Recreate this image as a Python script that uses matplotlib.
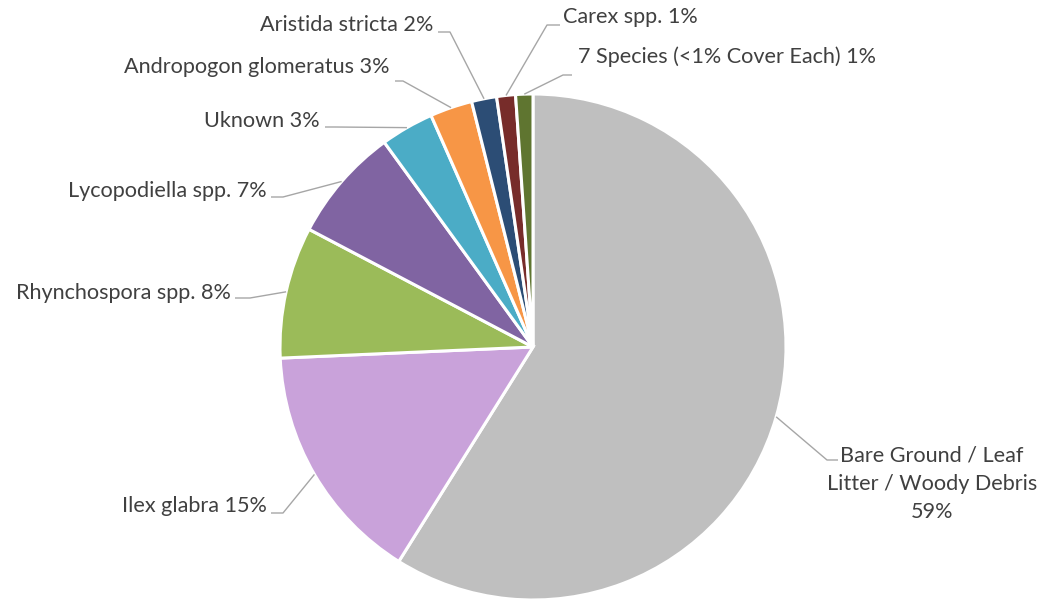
import numpy as np
import matplotlib
matplotlib.use("Agg")
import matplotlib.pyplot as plt

# ---- data ----
categories = ["Bare Ground / Leaf\nLitter / Woody Debris\n", "Ilex glabra ", "Rhynchospora spp. ",
              "Lycopodiella spp. ", "Uknown ", "Andropogon glomeratus ", "Aristida stricta ",
              "Carex spp. ", "7 Species (<1% Cover Each) "]
values = [58.9, 15.4, 8.4, 7.3, 3.4, 2.7, 1.6, 1.2, 1.1]
colors = ["#BFBFBF", "#C9A2DA", "#9BBB59", "#8064A2", "#4BACC6", "#F79646",
          "#2C4D75", "#772C2A", "#5F7530"]

# ---- layout (pixel coords, y measured from top) ----
W, H = 1049, 600
cx, cy, R = 533, 347, 253
label_layout = [
    # text x, text y, ha, elbow, end
    (932, 484, "center", (827, 460), (838, 460)),
    (267, 506, "right", (283, 513), (271, 513)),
    (231, 293, "right", (250, 298), (235, 298)),
    (267, 191, "right", (283, 197), (271, 197)),
    (320, 121, "right", (335, 127), (325, 127)),
    (390, 67, "right", (403, 81), (395, 81)),
    (433, 25, "right", (450, 32), (438, 32)),
    (563, 17, "left", (547, 25), (560, 25)),
    (578, 57, "left", (563, 75), (572, 75)),
]

plt.rcParams['font.family'] = ['Lato', 'DejaVu Sans']
fig = plt.figure(figsize=(W / 100, H / 100), dpi=100)
ax = fig.add_axes([0, 0, 1, 1])
ax.set_xlim(0, W)
ax.set_ylim(0, H)
ax.set_aspect('equal')
ax.axis('off')

wedges, _ = ax.pie(values, colors=colors, startangle=90, counterclock=False,
                   center=(cx, H - cy), radius=R,
                   wedgeprops=dict(edgecolor="white", linewidth=2.2))
ax.set_xlim(0, W)
ax.set_ylim(0, H)

total = sum(values)
text_color = "#404040"
line_color = "#A6A6A6"
for w, cat, v, (tx, ty, ha, elbow, end) in zip(wedges, categories, values, label_layout):
    mid = np.deg2rad((w.theta1 + w.theta2) / 2)
    ax_x = cx + R * np.cos(mid)
    ax_y = (H - cy) + R * np.sin(mid)
    xs = [ax_x, elbow[0], end[0]]
    ys = [ax_y, H - elbow[1], H - end[1]]
    ax.plot(xs, ys, color=line_color, lw=1.0, solid_capstyle='butt', zorder=3)
    pct = f"{round(v / total * 100):d}%"
    ax.text(tx, H - ty, cat + pct, ha=ha, va="center", fontsize=15.6,
            color=text_color, multialignment="center", linespacing=1.52)

fig.savefig("out.png", dpi=100)
